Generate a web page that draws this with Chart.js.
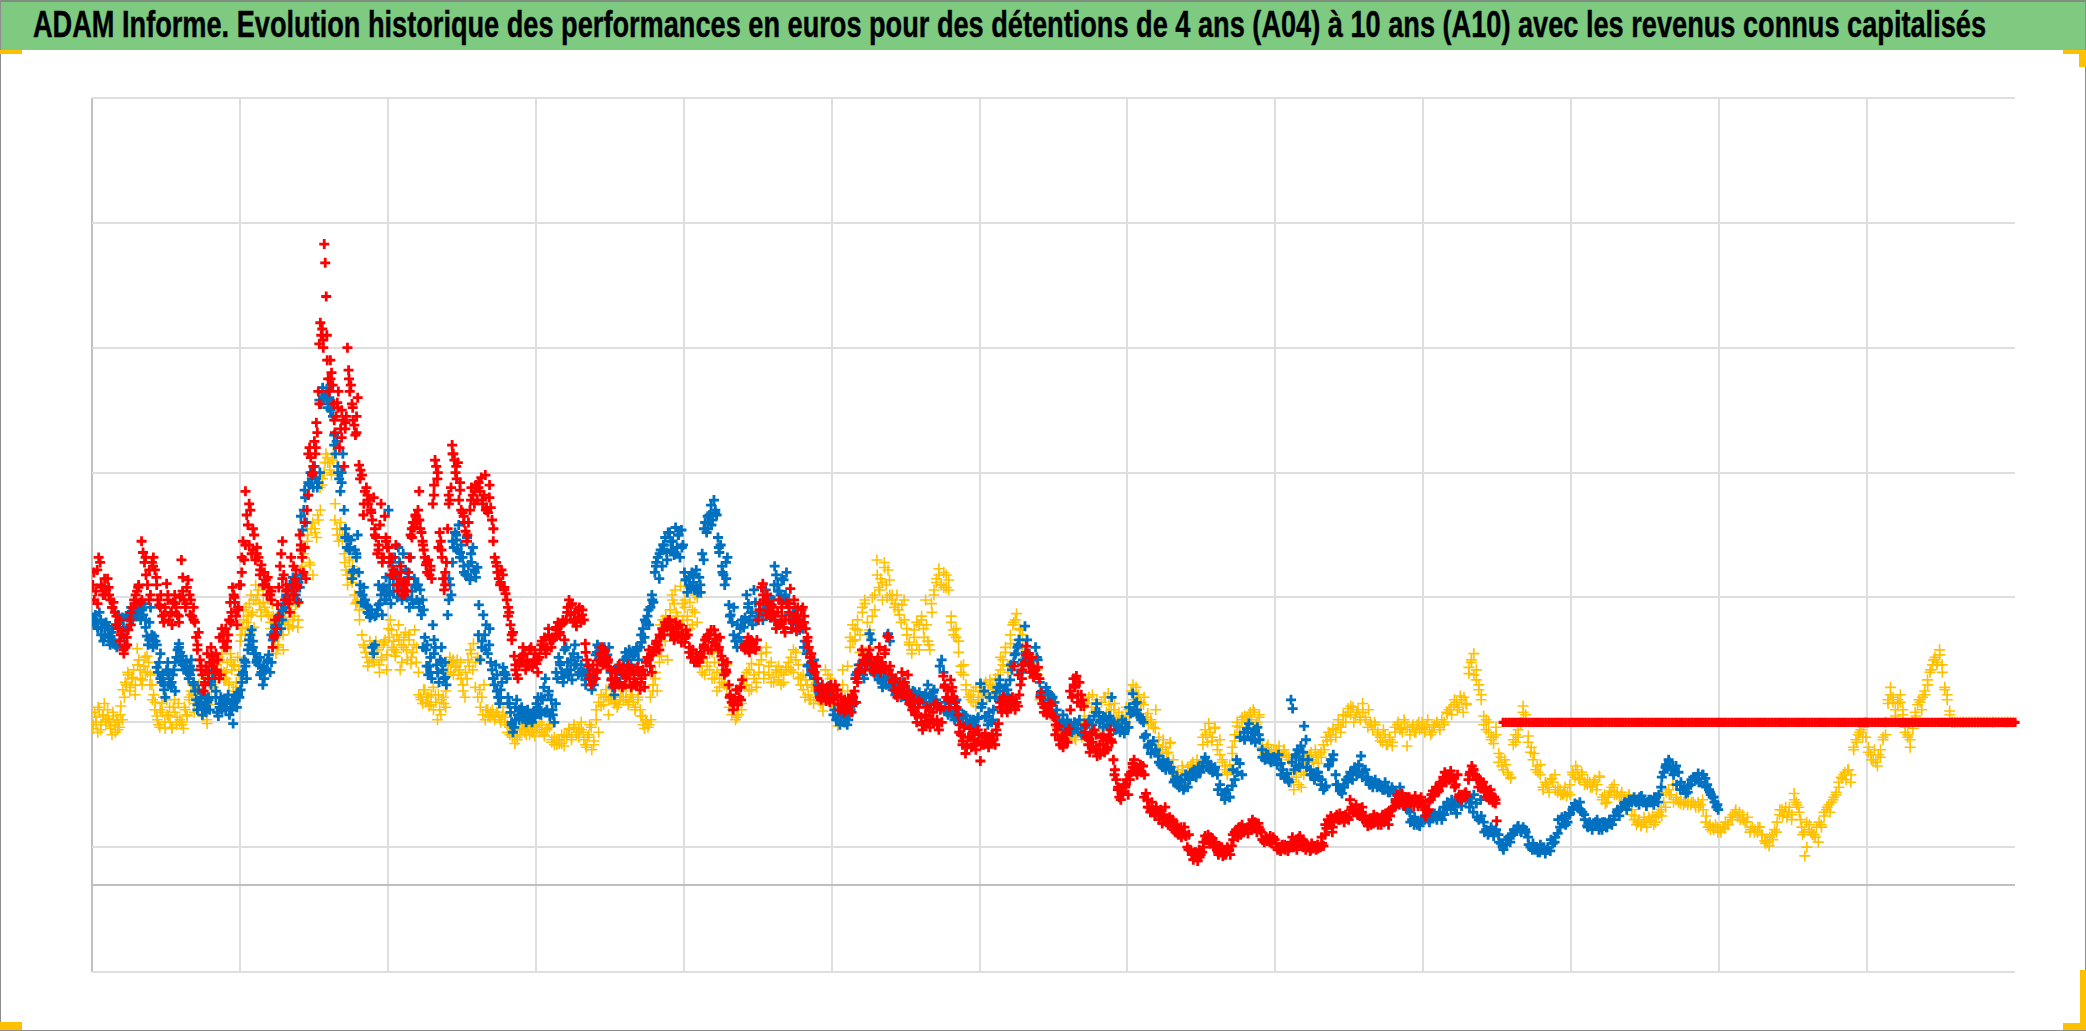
<!DOCTYPE html>
<html lang="fr">
<head>
<meta charset="utf-8">
<title>ADAM Informe</title>
<script src="https://cdn.jsdelivr.net/npm/chart.js@4/dist/chart.umd.min.js"></script>
<style>
  html, body { margin: 0; padding: 0; background: #fff; }
  #page { position: relative; width: 2086px; height: 1031px; overflow: hidden; background: #fff; }
  #bandeau { position: absolute; left: 0; top: 0; width: 2086px; height: 50px; background: #7eca80; border-top: 2px solid #7f8f7f; box-sizing: border-box; }
  #bandeau span { position: absolute; left: 33px; top: 0px; white-space: nowrap; font: bold 36px "Liberation Sans Narrow", "Liberation Sans", sans-serif; color: #000; -webkit-text-stroke: 0.4px #000; transform-origin: 0 0; line-height: 46px; }
  #cadre { position: absolute; inset: 0; border: 1px solid #8c8c8c; border-top: 0; box-sizing: border-box; pointer-events: none; }
  .coin { position: absolute; background: #ffc000; }
  canvas { position: absolute; left: 0; top: 0; }
</style>
</head>
<body>
<div id="page">
  <canvas id="myChart" width="2086" height="1031"></canvas>
  <div id="bandeau"><span id="titre">ADAM Informe. Evolution historique des performances en euros pour des détentions de 4 ans (A04) à 10 ans (A10) avec les revenus connus capitalisés</span></div>
  <div id="cadre"></div>
  <div class="coin" style="left:0;top:50px;width:22px;height:4px"></div>
  <div class="coin" style="left:2063px;top:50px;width:23px;height:4px"></div>
  <div class="coin" style="left:2079px;top:50px;width:7px;height:17px"></div>
  <div class="coin" style="left:0;top:1022px;width:22px;height:8px"></div>
  <div class="coin" style="left:2063px;top:1023px;width:23px;height:7px"></div>
  <div class="coin" style="left:2080px;top:970px;width:6px;height:60px"></div>
</div>
<script>
// graduations (no labels in the picture, only the grid)
var graduationsX = [0, 100, 200, 300, 400, 500, 600, 700, 800, 900, 1000, 1100, 1200, 1300];
var graduationsY = [-70, 0, 30, 130, 230, 330, 430, 530, 630];

// values, one small list per 10 x-units
var a10 = [
  // 0-100
  [240,228,235,252,262,258,238,232,245,236],[245,232,228,222,226,218,215,205,212,200],[203,185,190,198,204,212,218,222,228,232],[235,240,226,275,266,258,248,240,228,232],[258,262,252,246,228,224,232,215,210,222],
  [241,228,212,218,208,226,232,222,216,215,230],[260,246,228,222,238,244,232,228,215,222,210],[198,192,202,180,172,168,155,160,175,185,165,178],[190,183,178,170,172,180,165,168,205,195,190],[205,190,200,212,226,218,238,232,226,215,208,222,240],
  // 100-200
  [240,262,275,260,315,296,288,272,300,265,268,280],[260,270,262,248,256,240,250,244,232,238],[232,228,190,198,212,205,224,238,255,265,275,248],[228,240,236,225,218,262,240,232,245,252,238,226],[280,272,262,250,270,245,300,312,350,342,328,335],
  [355,345,370,362,395,433,450,440,445,430,513,498,471,420,405],[395,420,410,400,385,362,375,386,395,350,365,380,372],[335,365,375,430,412,395,400,385,372,368,360,375,390],[336,332,328,296,315,318,305,308,300,292],[310,280,278,265,272,288,305,258,262,295,275,270],
  // 200-300
  [270,258,248,262,252,250,272,240,235,245,250,232],[240,232,240,235,245,262,280,278,290,286,296,290],[300,315,285,282,275,268,262,256,250,260,248,255,245],[305,312,340,335,325,270,282,275,262,245,236,250,258],[285,312,308,318,352,345,340,330,325,338,308,316,300],
  [298,290,283,275,290,300,318,312,305,320],[308,322,315,326,305,312,328,302,298,310,302],[292,285,262,258,250,245,240,252,248,236,233],[228,222,218,208,196,202,183,176,168,165,175,180],[178,190,185,172,180,175,188,190,174,178,185],
  // 300-400
  [177,170,182,188,195,192,198,185,190,205,196],[190,196,198,204,210,200,208,212,196],[212,222,228,216,225,210,218,207,214,222],[210,220,212,193,180,175,168,160,172,165],[165,172,180,185,190,176,188,182,178,174],
  [172,165,160,158,170,162,176,172,158,168],[160,170,176,165,158,172,168,162,160,170],[156,165,172,158,178,182,188,175,170,186],[190,195,192,188,198,205,200,210,206,212],[212,200,205,196,210,202,198,208,194,200],
  // 400-500
  [194,204,200,190,182,188,178,185,180],[178,186,182,190,196,198,188,200,204,194],[204,192,196,188,198,183,176,168,172,178],[160,152,146,140,148,156,144,150,158,164],[190,188,192,198,186,196,194,190,188,196],
  [212,225,238,241,228,216,232,220,214,224],[222,212,205,218,228,210,215,206,202,226],[225,218,237,205,210,228,215,203,222,212,208,220],[222,215,205,195,190,182,178,172,170,175],[165,156,150,148,160,155,152,147,158,150,146,160],
  // 500-600
  [155,148,160,152,145,140,150,142,138,146],[140,148,144,138,150,155,146,162,170,176],[188,180,172,178,184,188,182,176,170,174],[175,182,190,170,178,174,185,172,199,198,175],[168,162,156,165,150,158,154,170,160,162],
  [150,168,145,152,140,148,136,130,142,146],[134,124,128,136,142,130,126,132,138,144],[145,128,124,140,130,167,160,150,156,142],[164,158,150,146,142,136,128,120,112,126],[105,112,118,125,110,122,116,108,114,120],
  // 600-700
  [99,115,112,121,118,110,114,120,116],[112,120,129,146,138,150,144,140,148],[142,148,150,175,140,146,143,152,160,165,176],[178,191,185,177,170,182,166,172,168,174],[165,154,145,138,142,136,140,145,138,135],
  [134,128,124,127,112,118,110,116,120,114],[125,140,150,165,158,167,152,162,143,148],[143,128,118,112,106,120,114,124,108,103],[108,104,118,112,106,116,110,120,124,114],[100,92,84,76,70,68,74,80,78,84],
  // 700-800
  [72,84,90,97,100,94,88,92,96,90],[95,88,73,68,62,58,66,60,55,62],[58,52,60,49,56,62,52,48,54,50],[52,46,42,48,40,44,38,42,46,39],[30,40,28,24,20,26,22,19,28,24],
  [26,30,39,36,40,33,35,37,30,34],[28,24,30,26,23,28,25,30,27,24],[31,36,42,44,38,46,40,48,42,45],[44,41,47,45,52,46,48,42,49,44],[42,36,34,38,35,37,39,33,38,36],
  // 800-900
  [33,28,30,27,32,29,28,31,27,30],[33,38,30,35,28,37,39,32,36,34],[28,32,30,27,33,29,31,28,32,30],[30,33,31,40,45,52,48,55,42,50],[54,56,52,57,53,55,50,56,54,52],
  [68,62,58,60,64,56,60,55,58,52],[55,52,47,50,48,52,56,50,54,48],[52,48,56,50,57,52,48,55,60,62],[62,68,72,65,70,73,66,63,68,70],[70,65,68,63,71,66,63,68,70,64],
  // 900-950
  [62,55,58,60,68,72,75,71,78,74],[75,82,79,86,90,82,88,84,91,86],[85,80,88,72,68,70,73,71],[84,90,95,92,88,86,78,84,80],[82,76,78,70,74,68,76,72,66,70,65,51]
];
// second reading of the same band
var a10b = [
  [250,225,240,232],[238,222,208,195],[188,192,208,225],[238,228,262,252],[255,240,222,216],
  [232,218,225,210],[235,225,216,212],[188,175,162,170],[175,185,198,200],[195,210,230,220],
  [250,272,305,285],[265,252,240,246],[235,200,215,245],[235,228,255,240],[268,290,345,330],
  [350,385,436,440],[405,372,382,358],[370,405,382,362],[325,305,312,298],[285,268,262,278],
  [262,248,240,255],[236,250,285,295],[292,272,258,252],[320,330,268,240],[305,345,335,322],
  [295,280,308,315],[318,308,300,320],[275,255,242,238],[215,200,172,178],[184,176,188,180],
  [180,192,188,200],[198,206,202,210],[218,224,212,220],[216,186,165,176],[170,178,186,180],
  [164,170,162,174],[166,172,160,174],[162,168,180,184],[193,200,204,208],[204,198,206,200],
  [198,186,182,178],[184,192,200,188],[200,190,180,170],[150,144,156,148],[192,188,194,190],
  [220,232,226,218],[216,208,222,212],[222,212,216,206],[210,198,185,175],[158,150,154,148],
  [150,156,144,148],[144,152,165,172],[184,176,182,172],[180,176,188,172],[164,155,162,152],
  [155,144,138,148],[128,135,140,130],[132,142,158,148],[155,142,122,115],[110,118,112,124],
  [112,118,114,120],[124,142,148,138],[146,144,168,172],[184,176,172,168],[150,142,138,144],
  [120,116,112,122],[155,160,146,152],[122,116,110,120],[112,118,108,116],[88,78,72,80],
  [88,94,90,96],[70,62,60,56],[56,54,50,52],[44,42,46,40],[28,24,26,22],
  [34,36,38,32],[26,30,24,28],[40,42,46,44],[46,44,50,46],[36,38,34,36],
  [30,28,32,29],[34,31,36,30],[30,28,31,29],[38,48,50,46],[54,52,55,53],
  [60,58,56,62],[50,52,49,54],[52,54,58,60],[66,70,64,68],[66,68,65,67],
  [60,66,72,76],[80,84,88,85],[78,70,72,74],[88,92,84,82],[74,72,70,68]
];

var plateau = [
  130,130,130,130,130,130,130,130,130,130,130,130,130,130,130,130,130,130,130,130,
  130,130,130,130,130,130,130,130,130,130,130,130,130,130,130,130,130,130,130,130,
  130,130,130,130,130,130,130,130,130,130,130,130,130,130,130,130,130,130,130,130,
  130,130,130,130,130,130,130,130,130,130,130,130,130,130,130,130,130,130,130,130,
  130,130,130,130,130,130,130,130,130,130,130,130,130,130,130,130,130,130,130,130,
  130,130,130,130,130,130,130,130,130,130,130,130,130,130,130,130,130,130,130,130,
  130,130,130,130,130,130,130,130,130,130,130,130,130,130,130,130,130,130,130,130,
  130,130,130,130,130,130,130,130,130,130,130,130,130,130,130,130,130,130,130,130,
  130,130,130,130,130,130,130,130,130,130,130,130,130,130,130,130,130,130,130,130
];

var a07 = [
  // 0-100
  [214,208,216,210,205,218,212,206,195,200,210],[207,198,192,202,205,196,192,190,216,210,212],[214,198,192,205,216,218,222,212,220,215],[218,222,224,212,220,216,225,212,199,192,210,222],[200,196,199,195,192,170,178,185,162,168,160,150],
  [172,178,165,160,158,168,172,155,182,188,193,186],[180,183,172,175,178,170,165,175,180,172,162,155],[148,140,156,145,150,136,142,152,138,146,150,140],[160,170,172,165,155,138,135,145,150,140,148,142],[140,148,152,136,145,140,129,146,150,142,154,150],
  // 100-200
  [156,162,170,180,175,165,188,192,200,204,195,185],[185,180,176,182,170,160,165,172,178,184],[170,178,196,202,208,200,214,216,205,212,225],[222,230,236,228,240,235,246,238,232,228,242],[238,248,284,300,310,290,312,320,330,325,318],
  [335,325,318,322,330,385,398,390,392,395,382],[390,400,385,375,360,345,355,335,325,315,330,345],[300,285,270,278,268,276,245,252,268,265,280],[250,240,226,232,238,228,224,222,217,214,220,190],[185,192,216,220,240,225,232,216,238,228,246,234],
  // 200-300
  [300,240,225,255,235,262,248,230,270,258,240,228],[265,240,252,230,246,222,262,235,225,245,238,228],[240,226,236,216,228,220,198,188,192,168,175,182,165],[208,196,190,176,170,162,180,190,172,165,178,160],[216,228,240,232,258,270,282,276,268,288,262,272],
  [262,250,248,278,256,244,258,270,252,246],[254,224,180,190,216,200,208,185,192,178],[172,165,160,176,168,150,145,156,162,174,170,168],[165,150,145,138,130,122,126,142,148,136,132,140],[142,134,138,130,140,132,136,130,138,134],
  // 300-400
  [145,150,140,136,148,158,165,140,152,135],[148,136,130,145,165,182,176,170,162,188],[190,178,168,172,164,185,192,176,182,170],[176,170,164,172,166,156,160],[184,192,190,186,178,188,182,184,190],
  [170,158,152,165,175,162,170,180],[186,180,188,176,183,185,190,180],[190,194,205,198,210,215,208,222,232,226],[250,258,262,245,268,255,272,278,266,282],[282,268,275,264,286,270,280,262,284,272],
  // 400-500
  [250,244,234,246,238,250,242,236,252,234],[246,234,265,260,290,282,285,296,304,292],[308,300,296,278,266,272,255,248,240,258,262],[224,216,210,222,195,190,198,205,212],[206,214,232,222,212,218,208,236,226,215],
  [215,220,218,212,228,236,222,216,224,214],[228,255,248,240,235,232,226,244,230,250],[225,212,205,218,222,208,215,204,210],[205,195,185,176,168,172,180,165],[160,152,158,150,154,148,159,152],
  // 500-600
  [150,140,132,136,128,138,130,134],[128,136,140,150,145,165,170,176,172],[172,165,178,182,201,196,174,168],[170,164,172,158,166,160,201,195],[158,164,152,160,155,150,162,156],
  [148,156,150,155,152,148,154],[150,146,153,160,144,150,156],[148,143,175,180,170,146,138,140],[145,135,132,148,140,134,130,136],[135,128,130,132,127,134],
  // 600-700
  [161,145,155,135,128,150,130,140],[150,158,164,148,155,160,152],[164,172,178,185,190,196,170,180],[207,196,185,175,170,190,180],[162,155,148,158,145,152,150],
  [146,140,132,128,136,124,132],[128,122,130,125,132,120],[120,128,132,122,135,145],[138,132,126,134,128,135,150],[130,124,128,122,132,121,126],
  // 700-800
  [126,137,153,145,140,136,132],[130,120,112,105,115,108],[103,96,100,92,98,94],[90,84,86,78,82,76,88],[78,84,88,92,86,94,90],
  [95,102,98,92,90,94],[88,80,72,68,76,70],[79,84,90,97,88,116],[125,129,118,122,114,126,116],[108,100,104,98,102],
  // 800-900
  [100,104,97,92,85,89,82],[148,141,92,102,108,96,111,100,127],[116,100,92,88,84,90,86],[80,76,79,95,100,104],[88,80,75,73,78,84,86],
  [90,84,94,88,95,103,90],[92,86,82,78,84,80],[80,76,82,78,74,76],[75,71,78,72,66,60],[58,52,54,48,47,52],
  // 900-1000
  [52,56,50,54,57,52],[57,52,56,60,64,68],[64,57,68,63,70,71],[70,66,72,65,52,55],[50,44,42,46,39,44],
  [40,33,28,32,38,39],[40,44,47,43,46,42],[38,30,33,28,26,32],[28,25,30,27,33,38],[41,46,52,55,50,57],
  // 1000-1100
  [60,65,62,66,58,52],[47,50,44,48,52,46],[44,50,46,52,48,55],[58,55,62,65,60,68],[66,70,68,64,71,66],
  [63,68,66,64,70,72],[78,90,96,100,92,88],[95,90,82,76,73,79],[80,86,84,89,82,88],[85,80,76,72,70,66,62,60]
];
var a07b = [
  [212,206,200,208],[200,194,208,212],[206,214,218,216],[216,220,206,196],[190,174,165,156],
  [170,162,178,190],[176,172,168,160],[144,150,142,148],[165,150,142,146],[146,140,148,152],
  [168,178,196,190],[178,168,174,180],[200,206,212,220],[232,240,236,244],[295,316,322,328],
  [326,388,394,388],[380,352,330,322],[278,270,250,262],[234,226,218,216],[215,224,236,228],
  [232,245,250,240],[235,245,228,240],[222,190,175,170],[185,170,178,166],[245,275,280,266],
  [255,248,265,250],[200,195,188,205],[165,155,150,170],[145,128,132,140],[138,132,136,134],
  [142,150,138,155],[140,170,178,166],[172,180,176,168],[168,160,172,164],[186,184,190,180],
  [164,172,160,168],[182,186,184,188],[200,212,220,228],[255,265,272,260],[275,266,280,270],
  [244,240,248,238],[240,285,295,288],[298,270,250,245],[215,200,208,195],[210,225,218,212],
  [218,224,220,230],[240,235,245,232],[216,210,212,206],[190,175,170,165],[154,150,156,152],
  [136,132,135,130],[132,145,168,172],[168,176,172,178],[168,162,166,164],[156,160,154,158],
  [152,150,154,151],[148,152,150,154],[145,142,140,136],[138,134,132,136],[130,132,128,133],
  [142,134,138,132],[154,158,152,156],[176,184,192,176],[186,178,172,182],[152,148,154,150],
  [134,128,130,126],[126,124,128,122],[126,130,128,138],[130,134,128,132],[124,128,126,130],
  [142,138,146,134],[118,110,112,106],[98,94,96,92],[82,80,84,78],[86,90,88,92],
  [98,94,96,92],[76,72,74,70],[92,100,118,122],[122,116,124,120],[102,104,100,102],
  [96,88,86,84],[98,104,94,106],[94,88,86,90],[84,78,96,100],[80,76,78,82],
  [88,92,96,86],[84,80,82,78],[78,76,74,78],[68,64,70,62],[50,48,50,52],
  [54,52,56,54],[58,62,66,60],[62,66,70,68],[62,58,54,68],[42,40,44,42],
  [34,30,36,34],[44,46,42,44],[32,28,30,26],[30,28,36,34],[52,54,48,56],
  [62,64,60,56],[46,48,50,44],[50,46,50,52],[60,62,66,64],[68,66,70,68],
  [66,68,70,66],[86,94,98,94],[80,76,78,74],[84,86,82,88],[78,74,70,64]
];

var a04 = [
  // 0-100
  [125,138,130,122,140,128,135,145,130],[140,130,125,120,135,128,132,124,126,143],[132,150,160,168,155,165,172,160],[189,180,165,160,175,170,183,178,168],[160,152,146,135,128,140,145,150,125],
  [148,135,130,125,142,138,128,145,132],[128,125,140,135,150,155,160,145],[155,160,148,135,165,129,150],[150,158,165,172,180,185,170],[165,178,162,185,172,155,175,162,182,168],
  // 100-200
  [195,205,220,200,210,215,225,232,218,206],[240,232,225,215,238,222,218,236],[210,225,195,185,190,205,218,188],[210,222,205,218,207,215,225,212],[245,255,265,248,275,258,285,248],
  [285,278,292,300,320,330,345,338],[338,328,345,305,285,275,290,280],[265,252,240,260,245,255,248,225,228],[220,225,192,186,175,195,180],[178,195,188,170,182,192,196,184],
  // 200-300
  [205,212,190,195,183,200,208,172,178],[190,202,180,196,177,186,204,190],[170,150,145,156,150,143,152],[158,152,132,140,148,145,155],[170,182,178,168,175,180,172,165],
  [160,150,165,175,185,193,178],[182,156,150,160,140,135,138],[140,132,138,135,130,142,134],[128,120,125,113,118,125],[125,128,120,124,128,122,119],
  // 300-400
  [124,130,122,119,125,128],[116,112,115,113,120,111],[118,125,116,128,120,125],[130,122,112,118,128,108,115],[132,122,143,150,156,148],
  [150,145,142,148,155],[150,146,152,140,148],[140,135,125,130,128,132,160],[165,155,178,183,200,215,205],[210,232,225,218,205,239,212],
  // 400-500
  [228,215,205,220,232,210],[180,170,190,175,185,165],[178,155,165,172,160,158],[150,140,132,136,145],[160,170,155,177,165,158],
  [170,185,165,190,175,162],[162,170,175,160,168,172],[178,172,188,180,165,160],[168,150,160,148,158,145,155],[150,145,139,172,150,165],
  // 500-600
  [145,150,127,140,172,135],[155,190,195,205,212,200],[218,225,200,190,215,232],[260,238,245,228,258,240,252,232],[232,225,220,210,228],
  [205,192,185,198,210,188],[212,205,228,195,188,218,236],[245,253,240,238,248,236],[215,200,205,195,175,168],[160,150,148,155,143,150],
  // 600-700
  [155,160,150,164,158],[165,155,172,180,190,175],[193,210,217,205,200],[188,178,167,172],[150,145,148,143,151],
  [135,128,122,116,130],[120,116,125],[130,150,152,140],[124,130,150,153,140],[145,130,135,128],
  // 700-800
  [135,160,150,145],[150,137,130,125],[118,110,105,113],[100,88,84,95,80],[92,96,89,100,95],
  [112,120,129,115,125],[108,116,100,95,88,92],[105,115,127,122,132,135],[130,138,140,128,134],[110,106,112,104,108],
  // 800-900
  [105,111,103,108,104,100],[84,76,95,80,90,100],[98,104,100,108,97],[102,108,115,120,125],[118,128,122,130,135,141],
  [143,130,138,134,145],[132,140,128,130,120],[115,124,112,118,111],[122,130,125,132,111],[120,128,122,130,125],
  // 900-1000
  [122,132,120,126,130],[124,128,137,142],[148,140,151,138,145],[169,180,185,172,160,148],[135,124,130,118,113,120],
  [105,95,100,90,85],[112,120,118,130,143,136],[119,110,105,95,88],[76,80,74,85,88],[78,72,73,71,80],
  // 1000-1100
  [88,95,85,90,80],[84,78,82,76,87],[70,65,70,75,80],[74,72,68,72],[60,55,50,47,50],
  [46,52,55,50,58],[55,62,72,80],[70,65,66,64],[66,64,62,68],[55,48,44,46],
  // 1100-1200
  [42,45,48,52],[60,58,52,50],[44,42,46,40],[33,31,36,42],[60,55,62,58,52],
  [73,66,62,52,40,23,30],[48,40,38,34,48],[55,62,58,68,72],[78,85,90,92,82],[108,114,122,118,130],
  // 1200-1300
  [110,100,108,95,102],[116,120,145,158,150,135],[145,152,140,122,118,110],[125,135,148,140,155],[160,172,180,176,188],
  [176,158,152,139,130,130],[130,130,130,130,130],[130,130,130,130,130],[130,130,130,130,130],[130,130,130,130,130]
];
var a04b = [
  [128,134,142,124,136,132],[133,127,138,122,130,136],[156,162,170,158,166,152],[176,172,164,182,170,160],[148,140,132,126,138,130],
  [136,142,126,148,134,130],[130,142,136,148,152,138],[152,146,156,140,132,144],[160,168,176,182,172,164],[170,160,180,176,158,172],
  [200,212,222,206,216,228],[228,236,220,226,232,216],[205,215,198,192,210,200],[214,208,220,212,224,206],[252,262,270,280,256,290],
  [282,296,318,325,338,342],[332,340,292,280,285,276],[258,248,262,242,232,226],[212,200,190,182,178,186],[186,190,176,180,194,172],
  [198,204,188,186,196,192],[198,188,200,182,192,178],[152,148,156,146,150,144],[140,146,152,136,150,142],[176,170,180,174,168,178],
  [155,170,180,188,172,158],[150,142,136,132,140,134],[136,134,138,132,136,130],[122,126,118,124,116,120],[124,122,126,120,122,128],
  [126,122,128,120,124,126],[114,118,112,116,113,119],[120,124,118,126,122,118],[124,116,110,120,126,112],[140,146,152,144,150,136],
  [148,152,146,144,150,148],[148,144,150,146,142,150],[135,128,132,126,150,155],[170,190,208,212,195,180],[220,228,236,215,208,225],
  [222,212,226,208,218,230],[175,182,168,178,172,186],[165,170,158,162,168,176],[142,136,145,134,148,140],[165,160,172,156,168,162],
  [176,180,170,186,168,178],[166,172,164,170,162,174],[174,182,170,186,176,166],[156,164,152,148,160,150],[148,152,144,156,168,160],
  [148,142,155,136,160,150],[175,198,208,196,204,186],[222,228,210,204,230,220],[248,236,242,254,230,244],[228,222,232,216,224,212],
  [200,194,188,204,192,208],[215,198,208,192,225,232],[242,248,240,250,238,244],[210,204,198,186,170,176],[156,150,152,146,158,148],
  [158,154,162,156,160,152],[160,168,182,176,186,170],[200,208,212,196,204,190],[182,176,170,174,180,168],[148,150,146,152,144,148],
  [132,126,120,128,118,124],[122,120,118,124,122,118],[135,145,150,142,138,148],[132,146,150,138,144,128],[140,134,138,130,132,142],
  [140,155,148,158,152,146],[144,134,128,132,126,140],[112,108,116,110,106,114],[94,86,90,82,92,84],[94,92,98,90,96,92],
  [118,124,114,122,118,126],[112,104,98,92,90,96],[110,120,130,126,134,118],[134,136,132,138,130,136],[108,104,110,106,108,104],
  [108,106,102,108,104,102],[82,90,86,96,78,88],[102,100,106,98,102,104],[106,112,118,122,116,124],[124,132,126,136,130,138],
  [136,142,134,140,132,138],[134,126,130,124,128,122],[118,114,120,112,116,114],[126,128,124,122,130,126],[124,126,122,128,124,130],
  [126,128,124,122,128,130],[126,132,130,138,140,136],[144,146,142,148,150,144],[174,178,168,164,156,152],[128,132,122,116,118,126],
  [98,102,92,96,88,86],[116,114,124,128,138,132],[114,106,100,92,90,96],[78,82,78,84,82,76],[74,76,72,78,74,72],
  [90,86,92,84,88,82],[80,82,78,84,80,86],[68,72,66,74,78,72],[72,70,74,70,68,72],[56,52,48,52,48,54],
  [50,54,52,48,54,56],[60,66,74,76,72,66],[68,66,68,64,66,66],[64,66,62,66,64,60],[50,46,44,46,48,42],
  [44,46,50,48,54,56],[58,54,52,56,50,54],[42,46,44,42,46,40],[35,34,38,40,44,50],[56,60,58,54,62,56],
  [68,64,58,46,42,50],[44,42,40,46,50,46],[58,60,64,66,70,74],[82,86,88,84,92,88],[110,116,120,124,126,118],
  [106,104,100,98,104,108],[118,130,148,152,146,140],[148,146,136,126,120,116],[130,138,144,146,150,152],[164,170,176,182,178,184],
  [170,156,148,136,130,130],[130],[130],[130],[130]
];

// each inner list is spread over its own 10 x-units
function enPoints(listes) {
  var points = [];
  listes.forEach(function (liste, k) {
    liste.forEach(function (v, j) {
      points.push({ x: k * 10 + (j + 0.5) * 10 / liste.length, y: v });
    });
  });
  return points;
}

var debutPlateau = 954;
var finPlateau = 1300;

var ctx = document.getElementById('myChart').getContext('2d');
var myChart = new Chart(ctx, {
  type: 'scatter',
  data: {
    datasets: [
      {
        label: 'A10 revenus connus',
        data: plateau.map(function (v, i) {
          return { x: debutPlateau + i * (finPlateau - debutPlateau) / (plateau.length - 1), y: v };
        }),
        pointStyle: 'cross', pointRadius: 4.6, pointBorderWidth: 3.2,
        borderColor: '#FF0000', backgroundColor: '#FF0000', clip: false
      },
      {
        label: 'A10',
        data: enPoints(a10).concat(enPoints(a10b)),
        pointStyle: 'cross', pointRadius: 5, pointBorderWidth: 2.8,
        borderColor: '#FF0000', backgroundColor: '#FF0000'
      },
      {
        label: 'A07',
        data: enPoints(a07).concat(enPoints(a07b)),
        pointStyle: 'cross', pointRadius: 5, pointBorderWidth: 2.8,
        borderColor: '#0070C0', backgroundColor: '#0070C0'
      },
      {
        label: 'A04',
        data: enPoints(a04).concat(enPoints(a04b)),
        pointStyle: 'cross', pointRadius: 5.5, pointBorderWidth: 1.6,
        borderColor: '#FFC000', backgroundColor: '#FFC000'
      }
    ]
  },
  options: {
    responsive: false,
    animation: false,
    layout: { padding: { left: 92, right: 71, top: 98, bottom: 59 } },
    plugins: {
      legend: { display: false },
      title: { display: false },
      tooltip: { enabled: false }
    },
    scales: {
      x: {
        min: 0,
        max: 1300,
        afterBuildTicks: function (axis) {
          axis.ticks = graduationsX.map(function (v) { return { value: v }; });
        },
        ticks: { display: false },
        border: { display: false },
        grid: {
          drawTicks: false,
          lineWidth: 2,
          color: function (c) {
            if (c.tick.value === 1300) return 'rgba(0,0,0,0)';
            return c.tick.value === 0 ? '#BFBFBF' : '#DEDEDE';
          }
        }
      },
      y: {
        min: -70,
        max: 630,
        afterBuildTicks: function (axis) {
          axis.ticks = graduationsY.map(function (v) { return { value: v }; });
        },
        ticks: { display: false },
        border: { display: false },
        grid: {
          drawTicks: false,
          lineWidth: 2,
          color: function (c) { return c.tick.value === 0 ? '#BFBFBF' : '#DEDEDE'; }
        }
      }
    }
  }
});

// stretch the title to the width it has in the picture
var titre = document.getElementById('titre');
titre.style.transform = 'scaleX(' + (1953 / titre.getBoundingClientRect().width) + ')';
</script>
</body>
</html>
